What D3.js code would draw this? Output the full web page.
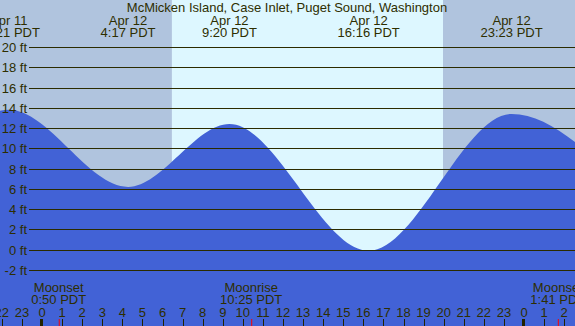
<!DOCTYPE html>
<html>
<head>
<meta charset="utf-8">
<script src="https://cdn.jsdelivr.net/npm/d3@7"></script>
<style>
  body { margin: 0; padding: 0; overflow: hidden; }
  svg { display: block; font-family: "Liberation Sans", Arial, sans-serif; font-size: 13px; }
  text { fill: #2e2e00; }
</style>
</head>
<body>
<div id="chart-area"></div>
<script>
// SVG Size
var width = 575,
	height = 326;

var title = "McMicken Island, Case Inlet, Puget Sound, Washington";

// tide extremes (clock time PDT), first and last are off the chart
var tideTimes = ["2024-04-11T15:40", "2024-04-11T22:21", "2024-04-12T04:17", "2024-04-12T09:20",
	"2024-04-12T16:16", "2024-04-12T23:23", "2024-04-13T05:10"];
var tideHeights = [-0.6, 13.8, 6.2, 12.4, -0.1, 13.4, 5.8];
var tideLabels = ["", "22:21 PDT", "4:17 PDT", "9:20 PDT", "16:16 PDT", "23:23 PDT", ""];
var tideDays = ["", "Apr 11", "Apr 12", "Apr 12", "Apr 12", "Apr 12", ""];

// sun
var sunrise = "2024-04-12T06:28";
var sunset = "2024-04-12T19:58";

// moon
var moonNames = ["Moonset", "Moonrise", "Moonset"];
var moonTimes = ["2024-04-12T00:50", "2024-04-12T10:25", "2024-04-13T01:41"];
var moonLabels = ["0:50 PDT", "10:25 PDT", "1:41 PDT"];

var feetTicks = [-2, 0, 2, 4, 6, 8, 10, 12, 14, 16, 18, 20];

var parse = d3.utcParse("%Y-%m-%dT%H:%M");

var tide = tideTimes.map(function(t, i) {
	return { date: parse(t), ft: tideHeights[i], label: tideLabels[i], day: tideDays[i] };
});

var x = d3.scaleUtc()
	.domain([parse("2024-04-12T00:00"), parse("2024-04-13T00:00")])
	.range([42, 524]);

var y = d3.scaleLinear()
	.domain([-2, 20])
	.range([270, 47]);

var svg = d3.select('#chart-area')
	.append("svg")
	.attr("width", width)
	.attr("height", height);

// night / day background
svg.append("rect")
	.attr("x", 0).attr("y", 0)
	.attr("width", width).attr("height", height)
	.attr("fill", "#b0c4de");

svg.append("rect")
	.attr("x", x(parse(sunrise)))
	.attr("y", 0)
	.attr("width", x(parse(sunset)) - x(parse(sunrise)))
	.attr("height", height)
	.attr("fill", "#ddf7ff");

// water
var area = d3.area()
	.x(function(d) { return x(d.date); })
	.y0(height)
	.y1(function(d) { return y(d.ft); })
	.curve(d3.curveMonotoneX);

svg.append("path")
	.datum(tide)
	.attr("d", area)
	.attr("fill", "#4262d6");

// grid lines + feet labels
var grid = svg.append("g");
grid.selectAll("line")
	.data(feetTicks)
	.enter()
	.append("line")
	.attr("x1", 29)
	.attr("x2", width)
	.attr("y1", function(d) { return Math.round(y(d)) + 0.5; })
	.attr("y2", function(d) { return Math.round(y(d)) + 0.5; })
	.attr("stroke", "#2b2b00")
	.attr("stroke-width", 1);

grid.selectAll("text")
	.data(feetTicks)
	.enter()
	.append("text")
	.attr("x", 27)
	.attr("y", function(d) { return y(d) + 5; })
	.attr("text-anchor", "end")
	.text(function(d) { return d + " ft"; });

// title
svg.append("text")
	.attr("x", 287)
	.attr("y", 12)
	.attr("text-anchor", "middle")
	.text(title);

// tide event labels
var ev = svg.selectAll(".ev")
	.data(tide.filter(function(d) { return d.label; }))
	.enter()
	.append("g")
	.attr("class", "ev")
	.attr("transform", function(d) { return "translate(" + x(d.date) + ",0)"; });

ev.append("text")
	.attr("y", 24.5)
	.attr("text-anchor", "middle")
	.text(function(d) { return d.day; });

ev.append("text")
	.attr("y", 36.5)
	.attr("text-anchor", "middle")
	.text(function(d) { return d.label; });

// hour axis
var hours = d3.utcHour.range(parse("2024-04-11T22:00"), parse("2024-04-13T03:00"));

svg.selectAll(".hr")
	.data(hours)
	.enter()
	.append("text")
	.attr("class", "hr")
	.attr("x", function(d) { return x(d); })
	.attr("y", 316.5)
	.attr("text-anchor", "middle")
	.text(function(d) { return d.getUTCHours(); });

svg.selectAll(".tick")
	.data(hours)
	.enter()
	.append("rect")
	.attr("class", "tick")
	.attr("x", function(d) { return d.getUTCHours() === 0 ? Math.round(x(d)) - 2 : Math.round(x(d)); })
	.attr("y", 319)
	.attr("width", function(d) { return d.getUTCHours() === 0 ? 3 : 1; })
	.attr("height", 7)
	.attr("fill", "#222200");

// moon events
var moon = moonTimes.map(function(t, i) {
	return { date: parse(t), name: moonNames[i], label: moonLabels[i] };
});

var mg = svg.selectAll(".moon")
	.data(moon)
	.enter()
	.append("g")
	.attr("class", "moon")
	.attr("transform", function(d) { return "translate(" + x(d.date) + ",0)"; });

mg.append("text")
	.attr("y", 291.5)
	.attr("text-anchor", "middle")
	.text(function(d) { return d.name; });

mg.append("text")
	.attr("y", 303.5)
	.attr("text-anchor", "middle")
	.text(function(d) { return d.label; });

mg.append("rect")
	.attr("x", 0)
	.attr("y", 319)
	.attr("width", 1)
	.attr("height", 7)
	.attr("fill", "red");
</script>
</body>
</html>
